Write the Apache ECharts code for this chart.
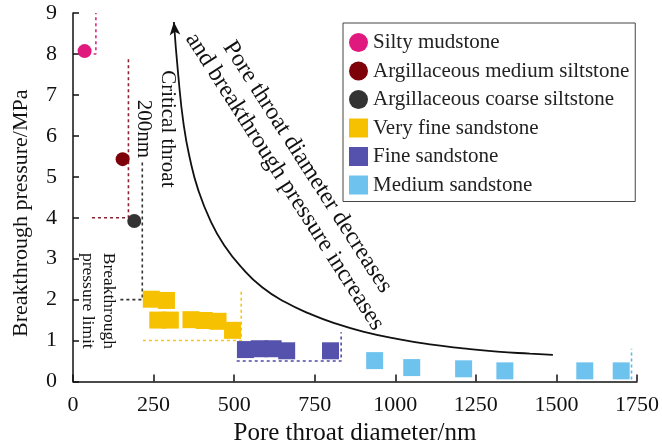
<!DOCTYPE html>
<html>
<head>
<meta charset="utf-8">
<script src="https://cdn.jsdelivr.net/npm/echarts@6/dist/echarts.min.js"></script>
<style>html,body{margin:0;padding:0;background:#fff}#c{width:662px;height:447px}</style>
</head>
<body>
<div id="c"></div>
<script>
// ---- data ----
const seriesNames = ['Silty mudstone','Argillaceous medium siltstone','Argillaceous coarse siltstone','Very fine sandstone','Fine sandstone','Medium sandstone'];
const siltyMudstone = [[36, 8.07]];
const argMediumSiltstone = [[154, 5.43]];
const argCoarseSiltstone = [[190, 3.92]];
const veryFineSandstone = [[243,2.01],[290,1.98],[263,1.50],[302,1.50],[366,1.51],[407,1.49],[450,1.47],[495,1.25]];
const fineSandstone = [[535,0.78],[578,0.80],[621,0.80],[663,0.75],[799,0.75]];
const mediumSandstone = [[936,0.51],[1051,0.34],[1212,0.31],[1340,0.26],[1588,0.26],[1701,0.26]];
// trend curve (arrow at first point)
const trendCurve = [[313,8.78],[326.5,7.49],[343.6,6.26],[363.7,5.41],[388.5,4.68],[425.7,3.94],[469,3.33],[525,2.77],[587,2.30],[658,1.94],[736,1.65],[813,1.42],[900,1.22],[1005,1.04],[1108,0.905],[1210,0.81],[1316,0.73],[1418,0.68],[1489,0.65]];
// dashed guide lines
const pinkGuide = [[64,8],[71,8],[71,9]];
const darkRedGuide = [[59,4],[172,4],[172,7.93]];
const blackGuide = [[147,2],[215,2],[215,5.35]];
const yellowGuide = [[217,1],[522,1],[522,2.25]];
const purpleGuide = [[508,0.5],[832,0.5],[832,1.2]];
const blueGuide = [[1733,0.05],[1733,0.8]];
// annotation anchors (data coordinates)
const poreTextAnchor = [692, 5.06];
const criticalAnchor = [255, 6.17];
const limitAnchor = [77.5, 1.97];
const xMin = 0, xMax = 1750, xStep = 250;
const yMin = 0, yMax = 9, yStep = 1;

const colors = ['#E0197E','#7E0008','#333333','#F6C100','#5552AE','#6EC3EE'];
const serif = 'Liberation Serif';

const chart = echarts.init(document.getElementById('c'));

function guide(data, color){
  return {type:'line', data:data, showSymbol:false, symbol:'none', silent:true, z:1,
    lineStyle:{color:color, width:1.6, type:[3,3]}};
}
function scatter(i, data, symbol, size){
  return {name:seriesNames[i], type:'scatter', data:data, symbol:symbol, symbolSize:size, z:3,
    itemStyle:{color:colors[i], opacity:1}};
}

const curveData = trendCurve.map((p,i)=> i===0 ? {value:p, symbol:'arrow', symbolSize:[8,13], symbolRotate:5} : {value:p});

const option = {
  animation:false,
  backgroundColor:'#ffffff',
  grid:{left:73, right:25, top:13, bottom:65.5, containLabel:false, outerBoundsMode:'none'},
  xAxis:{type:'value', min:xMin, max:xMax, interval:xStep,
    name:'Pore throat diameter/nm', nameLocation:'middle', nameGap:37,
    nameTextStyle:{fontFamily:serif, fontSize:25, color:'#111'},
    axisLine:{lineStyle:{color:'#111', width:1.5}},
    axisTick:{inside:true, length:7, lineStyle:{color:'#111', width:1.5}},
    axisLabel:{fontFamily:serif, fontSize:22, color:'#111', margin:13, formatter:(v)=>String(v)},
    splitLine:{show:false}},
  yAxis:{type:'value', min:yMin, max:yMax, interval:yStep,
    name:'Breakthrough pressure/MPa', nameLocation:'middle', nameGap:41,
    nameTextStyle:{fontFamily:serif, fontSize:22, color:'#111', padding:[0,32,0,0]},
    axisLine:{show:true, lineStyle:{color:'#111', width:1.5}},
    axisTick:{show:true, inside:true, length:6, lineStyle:{color:'#111', width:1.5}},
    axisLabel:{fontFamily:serif, fontSize:22, color:'#111', margin:16},
    splitLine:{show:false}},
  legend:{orient:'vertical', left:343, top:23, padding:[9,6,6,6], itemGap:7.5,
    itemWidth:19, itemHeight:19, itemTextGap:9,
    borderColor:'#444', borderWidth:1, backgroundColor:'#fff',
    textStyle:{fontFamily:serif, fontSize:21, color:'#222'},
    data:seriesNames},
  series:[
    guide(pinkGuide, '#D6287F'),
    guide(darkRedGuide, '#8B2232'),
    guide(blackGuide, '#333333'),
    guide(yellowGuide, '#F5C518'),
    guide(purpleGuide, '#4F4AA8'),
    guide(blueGuide, '#5BB8E8'),
    {type:'line', data:curveData, smooth:0.5, symbol:'none', showSymbol:true,
      silent:true, z:2, itemStyle:{color:'#111'}, lineStyle:{color:'#111', width:1.8}},
    scatter(0, siltyMudstone, 'circle', 14),
    scatter(1, argMediumSiltstone, 'circle', 14),
    scatter(2, argCoarseSiltstone, 'circle', 14),
    scatter(3, veryFineSandstone, 'rect', 17),
    scatter(4, fineSandstone, 'rect', 17),
    scatter(5, mediumSandstone, 'rect', 17)
  ]
};
chart.setOption(option);

function txt(anchor, text, rot, size, lh){
  const p = chart.convertToPixel({gridIndex:0}, anchor);
  return {type:'text', x:p[0], y:p[1], rotation:rot, z:10, silent:true,
    style:{text:text, fontFamily:serif, fontSize:size, fill:'#111', lineHeight:lh,
      align:'center', verticalAlign:'middle', textAlign:'center', textVerticalAlign:'middle'}};
}
chart.setOption({graphic:[
  txt(poreTextAnchor, 'Pore throat diameter decreases\nand breakthrough pressure increases', -1.0, 24, 27),
  txt(criticalAnchor, 'Critical throat\n200nm', -Math.PI/2, 21, 24),
  txt(limitAnchor, 'Breakthrough\npressure limit', -Math.PI/2, 17.5, 21)
]});
</script>
</body>
</html>
